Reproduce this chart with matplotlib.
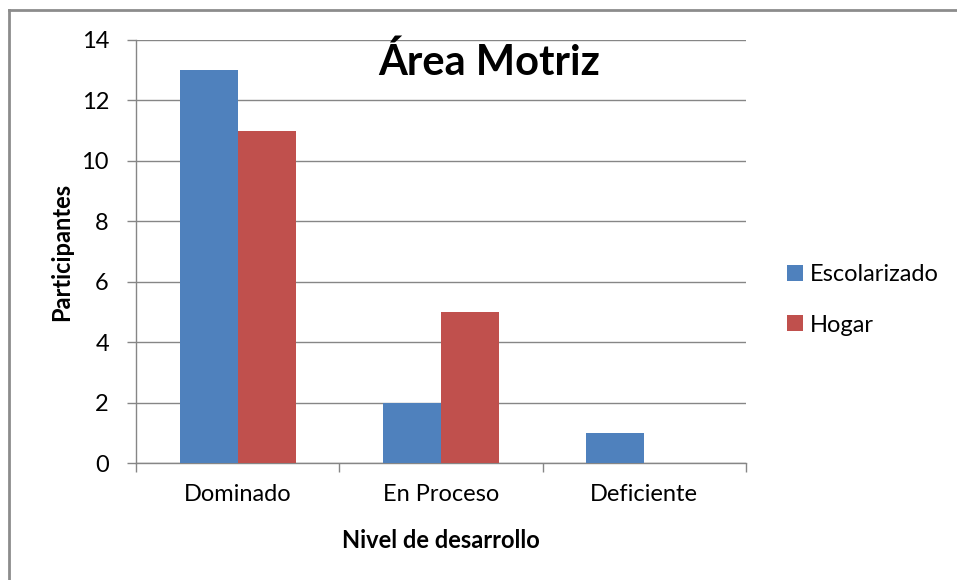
import matplotlib
matplotlib.use("Agg")
import matplotlib.pyplot as plt
import numpy as np
from matplotlib.lines import Line2D

categories = ["Dominado", "En Proceso", "Deficiente"]
series_names = ["Escolarizado", "Hogar"]
escolarizado = [13, 2, 1]
hogar = [11, 5, 0]
yticks = [0, 2, 4, 6, 8, 10, 12, 14]

plt.rcParams['font.family'] = ['Lato', 'DejaVu Sans']

fig = plt.figure(figsize=(9.57, 5.80), dpi=100)
W, H = 957, 580
ax = fig.add_axes([136 / W, 1 - 463 / H, (746 - 136) / W, (463 - 40) / H])

blue = "#4F81BD"
red = "#C0504D"
grid = "#868686"

x = np.arange(len(categories))
w = 1 / 3.5
ax.bar(x - w / 2, escolarizado, width=w, color=blue, label=series_names[0], zorder=3)
ax.bar(x + w / 2, hogar, width=w, color=red, label=series_names[1], zorder=3)

ax.set_xlim(-0.5, 2.5)
ax.set_ylim(0, 14)
ax.set_yticks(yticks)
ax.set_yticklabels([str(v) for v in yticks], fontsize=17)
ax.yaxis.grid(True, color=grid, linewidth=1, zorder=0)
ax.set_xticks([-0.5, 0.5, 1.5, 2.5])
ax.set_xticklabels([])
ax.set_xticks(x, minor=True)
ax.set_xticklabels(categories, minor=True, fontsize=17)
ax.tick_params(axis='x', which='minor', length=0, pad=15)
ax.tick_params(axis='x', which='major', length=6.5, color=grid, width=1)
ax.tick_params(axis='y', length=6.5, color=grid, width=1, pad=13)
for s in ["top", "right"]:
    ax.spines[s].set_visible(False)
for s in ["left", "bottom"]:
    ax.spines[s].set_color(grid)
    ax.spines[s].set_linewidth(1)

ax.set_ylabel("Participantes", fontsize=17, fontweight='bold', va='center')
ax.yaxis.set_label_coords((62 - 136) / 610, 0.5)
ax.set_xlabel("Nivel de desarrollo", fontsize=17, fontweight='bold', va='center')
ax.xaxis.set_label_coords(0.5, -(540 - 463) / 423)

fig.text(489 / W, 1 - 62 / H, "Área Motriz", fontsize=30, fontweight='bold',
         ha='center', va='center')

fig.legend(loc='upper left', bbox_to_anchor=(787 / W, 1 - 264 / H), frameon=False,
           fontsize=17, handlelength=0.68, handleheight=0.68, handletextpad=0.3,
           labelspacing=1.25, borderaxespad=0, borderpad=0)

border = "#8c8c8c"
fig.lines.append(Line2D([9 / W, 1], [1 - 10 / H, 1 - 10 / H], transform=fig.transFigure,
                        color=border, linewidth=2))
fig.lines.append(Line2D([9 / W, 9 / W], [0, 1 - 10 / H], transform=fig.transFigure,
                        color=border, linewidth=2))

fig.savefig("out.png", dpi=100)
